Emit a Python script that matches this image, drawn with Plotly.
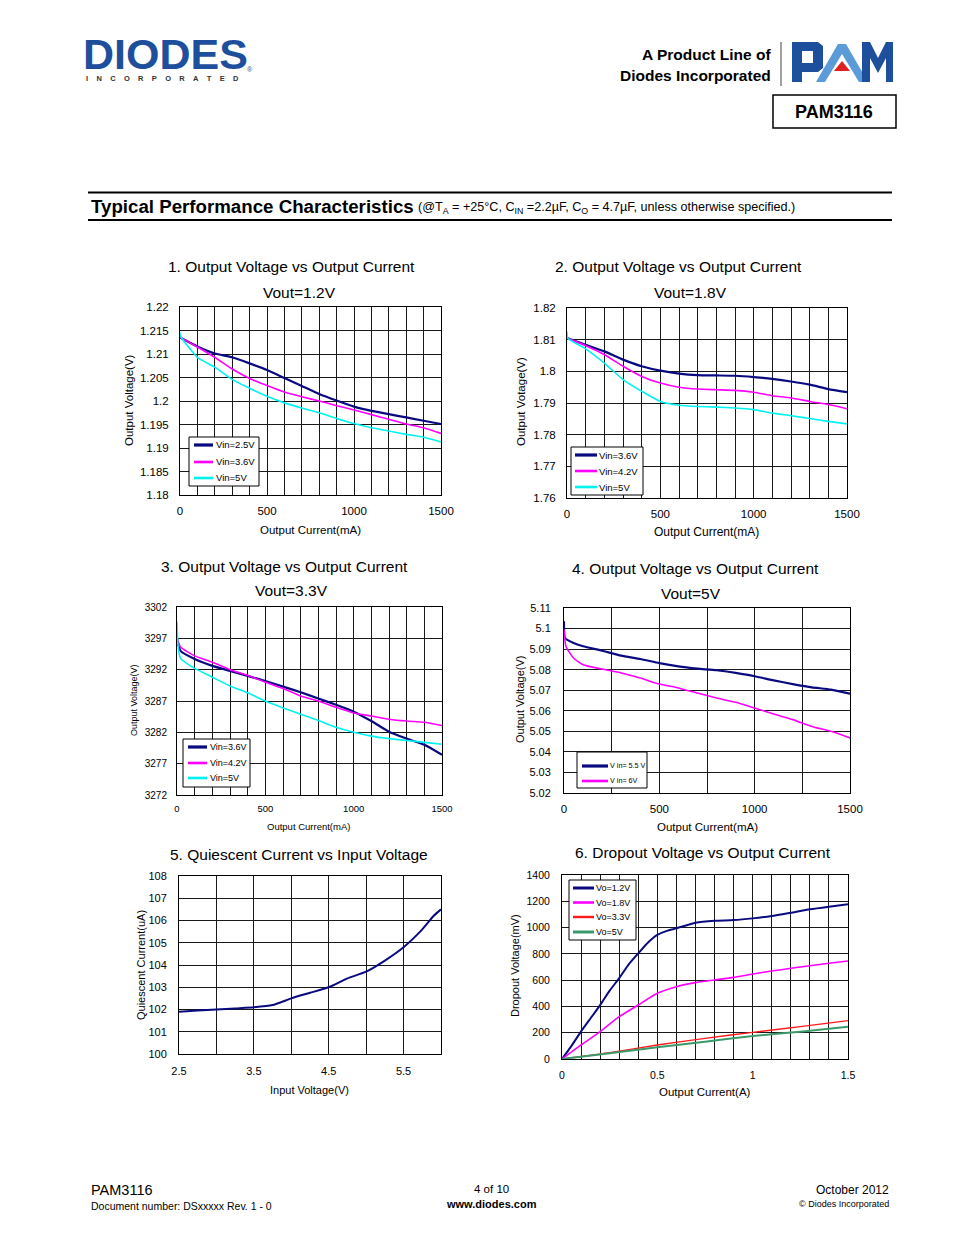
import plotly.graph_objects as go

W, H = 954, 1235
FONT = "Liberation Sans, Arial, Helvetica, sans-serif"
NAVY = "#0a0a80"
MAG = "#ff00ff"
CYAN = "#00f2f2"
RED = "#ff1a1a"
GREEN = "#3a9a6a"
GRID = "#1a1a1a"
LOGO_BLUE = "#1e4f9c"
LOGO_LIGHT = "#5b9bd8"

# ---------------- data ----------------
# Chart 1: Vout = 1.2V
c1_current = [0, 100, 200, 300, 400, 500, 600, 700, 800, 900, 1000, 1100, 1200, 1300, 1400, 1500]
c1_vin25 = [1.2135, 1.2116, 1.2101, 1.2093, 1.2080, 1.2066, 1.2049, 1.2032, 1.2015, 1.2001,
            1.1988, 1.1979, 1.1972, 1.1965, 1.1958, 1.1951]
c1_vin36 = [1.2136, 1.2115, 1.2093, 1.2068, 1.2048, 1.2033, 1.2019, 1.2009, 1.2000, 1.1990,
            1.1981, 1.1971, 1.1961, 1.1951, 1.1943, 1.1931]
c1_current5 = [0, 3, 100, 200, 300, 400, 500, 600, 700, 800, 900, 1000, 1100, 1200, 1300, 1400, 1500]
c1_vin5 = [1.2146, 1.2138, 1.2093, 1.2072, 1.2046, 1.2027, 1.2010, 1.1996, 1.1985, 1.1975,
           1.1963, 1.1952, 1.1943, 1.1936, 1.1929, 1.1923, 1.1913]

# Chart 2: Vout = 1.8V
c2_current = [0, 100, 200, 300, 400, 500, 600, 700, 800, 900, 1000, 1100, 1200, 1300, 1400, 1500]
c2_vin36 = [1.8105, 1.8084, 1.8063, 1.8037, 1.8016, 1.8002, 1.7993, 1.7988, 1.7987, 1.7986,
            1.7982, 1.7976, 1.7968, 1.7958, 1.7944, 1.7934]
c2_vin42 = [1.8105, 1.8081, 1.8053, 1.8016, 1.7984, 1.7963, 1.7950, 1.7944, 1.7942, 1.7940,
            1.7934, 1.7923, 1.7916, 1.7905, 1.7895, 1.7882]
c2_current5 = [0, 3, 100, 200, 300, 400, 500, 600, 700, 800, 900, 1000, 1100, 1200, 1300, 1400, 1500]
c2_vin5 = [1.8126, 1.8105, 1.8071, 1.8026, 1.7974, 1.7937, 1.7905, 1.7893, 1.7889, 1.7887,
           1.7884, 1.7879, 1.7868, 1.7860, 1.7851, 1.7842, 1.7834]

# Chart 3: Vout = 3.3V (values as labelled)
c3_current = [0, 20, 100, 200, 300, 400, 500, 600, 700, 800, 900, 1000, 1100, 1200, 1300, 1400, 1500]
c3_vin36 = [3297.0, 3295.0, 3293.7, 3292.6, 3291.8, 3291.0, 3290.2, 3289.3, 3288.4, 3287.4,
            3286.4, 3285.3, 3283.8, 3282.1, 3281.0, 3280.0, 3278.4]
c3_vin42 = [3297.0, 3295.6, 3294.2, 3293.2, 3292.0, 3291.1, 3290.0, 3289.0, 3287.8, 3287.0,
            3286.0, 3285.1, 3284.6, 3284.1, 3283.8, 3283.6, 3283.1]
c3_current5 = [0, 5, 20, 100, 200, 300, 400, 500, 600, 700, 800, 900, 1000, 1100, 1200, 1300, 1400, 1500]
c3_vin5 = [3299.7, 3296.0, 3293.8, 3292.2, 3290.8, 3289.4, 3288.3, 3287.0, 3285.9, 3284.9,
           3283.9, 3282.8, 3282.0, 3281.4, 3281.0, 3280.7, 3280.4, 3280.1]

# Chart 4: Vout = 5V
c4_current55 = [0, 5, 50, 100, 200, 300, 400, 500, 600, 700, 800, 900, 1000, 1100, 1200, 1300, 1400, 1500]
c4_vin55 = [5.1035, 5.0954, 5.0930, 5.0914, 5.0892, 5.0868, 5.0852, 5.0832, 5.0816, 5.0805,
            5.0797, 5.0784, 5.0768, 5.0748, 5.0730, 5.0714, 5.0703, 5.0683]
c4_current6 = [0, 10, 50, 100, 200, 300, 400, 500, 600, 700, 800, 900, 1000, 1100, 1200, 1300, 1400, 1500]
c4_vin6 = [5.0995, 5.0914, 5.0857, 5.0824, 5.0803, 5.0784, 5.0759, 5.0730, 5.0711, 5.0686,
           5.0662, 5.0641, 5.0613, 5.0584, 5.0557, 5.0524, 5.0500, 5.0468]

# Chart 5: Quiescent current vs input voltage
c5_vin = [2.5, 2.75, 3.0, 3.25, 3.5, 3.75, 4.0, 4.25, 4.5, 4.75, 5.0, 5.25, 5.5, 5.75, 5.9, 6.0]
c5_iq = [101.9, 101.95, 102.0, 102.05, 102.1, 102.2, 102.5, 102.75, 103.0, 103.4, 103.7,
         104.2, 104.8, 105.6, 106.2, 106.5]

# Chart 6: Dropout voltage vs output current
c6_current12 = [0, 0.05, 0.1, 0.15, 0.2, 0.25, 0.3, 0.35, 0.4, 0.45, 0.5, 0.55, 0.6, 0.7, 0.8,
                0.9, 1.0, 1.1, 1.2, 1.3, 1.4, 1.5]
c6_vo12 = [0, 100, 210, 310, 410, 520, 615, 720, 804, 885, 944, 975, 994, 1037, 1052, 1057,
           1070, 1088, 1113, 1139, 1159, 1177]
c6_current18 = [0, 0.1, 0.2, 0.3, 0.4, 0.5, 0.6, 0.7, 0.8, 0.9, 1.0, 1.1, 1.2, 1.3, 1.4, 1.5]
c6_vo18 = [0, 107, 208, 322, 411, 500, 550, 581, 601, 621, 647, 669, 690, 710, 728, 746]
c6_current_hi = [0, 0.25, 0.5, 0.75, 1.0, 1.25, 1.5]
c6_vo33 = [0, 48, 107, 157, 203, 246, 292]
c6_vo5 = [0, 43, 89, 132, 175, 208, 246]

# tick labels
c1_yticks = [1.18, 1.185, 1.19, 1.195, 1.2, 1.205, 1.21, 1.215, 1.22]
c1_ytext = ["1.18", "1.185", "1.19", "1.195", "1.2", "1.205", "1.21", "1.215", "1.22"]
c2_yticks = [1.76, 1.77, 1.78, 1.79, 1.8, 1.81, 1.82]
c2_ytext = ["1.76", "1.77", "1.78", "1.79", "1.8", "1.81", "1.82"]
c3_yticks = [3272, 3277, 3282, 3287, 3292, 3297, 3302]
c3_ytext = ["3272", "3277", "3282", "3287", "3292", "3297", "3302"]
c4_yticks = [5.02, 5.03, 5.04, 5.05, 5.06, 5.07, 5.08, 5.09, 5.1, 5.11]
c4_ytext = ["5.02", "5.03", "5.04", "5.05", "5.06", "5.07", "5.08", "5.09", "5.1", "5.11"]
c5_yticks = [100, 101, 102, 103, 104, 105, 106, 107, 108]
c5_ytext = ["100", "101", "102", "103", "104", "105", "106", "107", "108"]
c6_yticks = [0, 200, 400, 600, 800, 1000, 1200, 1400]
c6_ytext = ["0", "200", "400", "600", "800", "1000", "1200", "1400"]
ma_xticks = [0, 500, 1000, 1500]
ma_xtext = ["0", "500", "1000", "1500"]
c5_xticks = [2.5, 3.5, 4.5, 5.5]
c5_xtext = ["2.5", "3.5", "4.5", "5.5"]
c6_xticks = [0, 0.5, 1.0, 1.5]
c6_xtext = ["0", "0.5", "1", "1.5"]


def px(x):
    return x / W


def py(y):
    return 1 - y / H


fig = go.Figure()
ann = []
shapes = []


def text(x, y, s, size, xanchor="center", angle=0, bold=False, color="black", family=FONT):
    ann.append(dict(x=px(x), y=py(y), xref="paper", yref="paper", text=f"<b>{s}</b>" if bold else s,
                    showarrow=False, xanchor=xanchor, yanchor="middle", textangle=angle,
                    borderpad=0, font=dict(family=family, size=size, color=color)))


def hline(x0, x1, y, w, color="black"):
    shapes.append(dict(type="line", xref="paper", yref="paper", x0=px(x0), x1=px(x1),
                       y0=py(y), y1=py(y), line=dict(color=color, width=w)))


def add_line(n, xs, ys, name, color, width):
    fig.add_trace(go.Scatter(
        x=xs, y=ys, name=name, mode="lines",
        line=dict(color=color, width=width, shape="spline", smoothing=0.5),
        xaxis="x" if n == 1 else f"x{n}", yaxis="y" if n == 1 else f"y{n}",
        showlegend=False, hoverinfo="skip"))


def legend_box(box, line_x, text_x, entries, fs):
    x0, y0, x1, y1 = box
    shapes.append(dict(type="rect", xref="paper", yref="paper", x0=px(x0), x1=px(x1),
                       y0=py(y1), y1=py(y0), fillcolor="white", line=dict(color="black", width=1),
                       layer="above"))
    for (yc, tr) in entries:
        shapes.append(dict(type="line", xref="paper", yref="paper", x0=px(line_x[0]), x1=px(line_x[1]),
                           y0=py(yc), y1=py(yc), layer="above",
                           line=dict(color=tr["color"], width=tr["width"] + 1)))
        text(text_x, yc, tr["name"], fs, xanchor="left")


def series(n, xs, ys, name, color, width):
    add_line(n, xs, ys, name, color, width)
    return dict(name=name, color=color, width=width)


s1 = [series(1, c1_current, c1_vin25, "Vin=2.5V", NAVY, 2.2),
      series(1, c1_current, c1_vin36, "Vin=3.6V", MAG, 1.6),
      series(1, c1_current5, c1_vin5, "Vin=5V", CYAN, 1.6)]
s2 = [series(2, c2_current, c2_vin36, "Vin=3.6V", NAVY, 2.2),
      series(2, c2_current, c2_vin42, "Vin=4.2V", MAG, 1.6),
      series(2, c2_current5, c2_vin5, "Vin=5V", CYAN, 1.6)]
s3 = [series(3, c3_current, c3_vin36, "Vin=3.6V", NAVY, 2.2),
      series(3, c3_current, c3_vin42, "Vin=4.2V", MAG, 1.6),
      series(3, c3_current5, c3_vin5, "Vin=5V", CYAN, 1.6)]
s4 = [series(4, c4_current55, c4_vin55, "V in= 5.5 V", NAVY, 2.2),
      series(4, c4_current6, c4_vin6, "V in= 6V", MAG, 1.6)]
series(5, c5_vin, c5_iq, "Iq", NAVY, 2.0)
s6 = [series(6, c6_current12, c6_vo12, "Vo=1.2V", NAVY, 2.0),
      series(6, c6_current18, c6_vo18, "Vo=1.8V", MAG, 1.6),
      series(6, c6_current_hi, c6_vo33, "Vo=3.3V", RED, 1.4),
      series(6, c6_current_hi, c6_vo5, "Vo=5V", GREEN, 2.0)]

layout = {}


def axes(n, box, xr, xt, xtt, xminor, yr, yt, ytt, xfs, yfs, xstand, ystand):
    left, top, right, bottom = box
    xk = "xaxis" if n == 1 else f"xaxis{n}"
    yk = "yaxis" if n == 1 else f"yaxis{n}"
    xid = "x" if n == 1 else f"x{n}"
    yid = "y" if n == 1 else f"y{n}"
    common = dict(showline=True, mirror=True, linecolor="black", linewidth=1,
                  showgrid=True, gridcolor=GRID, gridwidth=1, zeroline=False,
                  ticks="", fixedrange=True, tickmode="array", automargin=False)
    layout[xk] = dict(common, domain=[px(left), px(right)], anchor=yid, range=xr,
                      tickvals=xt, ticktext=xtt,
                      tickfont=dict(family=FONT, size=xfs, color="black"),
                      ticklabelstandoff=xstand,
                      minor=dict(dtick=xminor, tick0=xr[0], showgrid=True,
                                 gridcolor=GRID, gridwidth=1, ticks=""))
    layout[yk] = dict(common, domain=[py(bottom), py(top)], anchor=xid, range=yr,
                      tickvals=yt, ticktext=ytt,
                      tickfont=dict(family=FONT, size=yfs, color="black"),
                      ticklabelstandoff=ystand)


axes(1, (180, 307, 441, 495), [0, 1500], ma_xticks, ma_xtext, 100,
     [1.18, 1.22], c1_yticks, c1_ytext, 11.5, 11.5, 5, 8)
axes(2, (567, 308, 847, 498), [0, 1500], ma_xticks, ma_xtext, 100,
     [1.76, 1.82], c2_yticks, c2_ytext, 11.5, 11.5, 5, 8)
axes(3, (177, 607, 442, 795), [0, 1500], ma_xticks, ma_xtext, 100,
     [3272, 3302], c3_yticks, c3_ytext, 9.5, 10, 5, 7)
axes(4, (564, 608, 850, 793), [0, 1500], ma_xticks, ma_xtext, 250,
     [5.02, 5.11], c4_yticks, c4_ytext, 11.5, 11, 5, 10)
axes(5, (179, 876, 441, 1054), [2.5, 6.0], c5_xticks, c5_xtext, 0.5,
     [100, 108], c5_yticks, c5_ytext, 11, 11, 7, 9)
axes(6, (562, 875, 848, 1059), [0, 1.5], c6_xticks, c6_xtext, 0.1,
     [0, 1400], c6_yticks, c6_ytext, 10.5, 10.5, 6, 9)

# legends (boxes drawn as in the reference)
legend_box((189, 437, 259, 486), (194, 213), 215, list(zip([445, 462, 478], s1)), 9.5)
legend_box((571, 447, 643, 495), (575, 597), 598, list(zip([455, 471, 487], s2)), 9.5)
legend_box((183, 739, 250, 787), (188, 207), 209, list(zip([747, 763, 778], s3)), 9)
legend_box((577, 752, 647, 788), (582, 608), 609, list(zip([766, 781], s4)), 7.2)
legend_box((569, 880, 636, 940), (573, 594), 595, list(zip([888, 902.5, 917, 932], s6)), 9)

# chart titles
TS = 15.5
text(291, 266, "1. Output Voltage vs Output Current", TS)
text(299, 293, "Vout=1.2V", TS)
text(678, 266, "2. Output Voltage vs Output Current", TS)
text(690, 293, "Vout=1.8V", TS)
text(284, 566, "3. Output Voltage vs Output Current", TS)
text(291, 590, "Vout=3.3V", TS)
text(695, 569, "4. Output Voltage vs Output Current", TS)
text(691, 593, "Vout=5V", TS)
text(299, 854, "5. Quiescent Current vs Input Voltage", TS)
text(703, 852, "6. Dropout Voltage vs Output Current", TS)

# axis titles
text(129, 400, "Output Voltage(V)", 11.5, angle=-90)
text(310, 530, "Output Current(mA)", 11.5)
text(521, 402, "Output Votage(V)", 11.5, angle=-90)
text(706, 532, "Output Current(mA)", 12)
text(134, 700, "Output Voltage(V)", 9, angle=-90)
text(308, 827, "Output Current(mA)", 9.5)
text(520, 700, "Output Voltage(V)", 11, angle=-90)
text(707, 827, "Output Current(mA)", 11.5)
text(141, 965, "Quiescent Current(uA)", 11, angle=-90)
text(309, 1090, "Input Voltage(V)", 11)
text(515, 966, "Dropout Voltage(mV)", 11, angle=-90)
text(705, 1092, "Output Current(A)", 11.5)

# header: DIODES logo
text(82, 53.5, "DIODES", 43, xanchor="left", bold=True, color=LOGO_BLUE)
NB = "\u00a0" * 4
text(85, 79, NB.join("INCORPORATED"), 7.5, xanchor="left", bold=True, color="#333333")
text(250, 69, "®", 7, color=LOGO_BLUE)
hline(84, 166, 54, 2, "white")

text(772, 55, "A Product Line of", 15.5, xanchor="right", bold=True)
text(772, 75, "Diodes Incorporated", 15.5, xanchor="right", bold=True)
text(834, 112, "PAM3116", 18, bold=True)


def path(points, fill):
    d = "M" + " L".join(f"{px(x):.5f},{py(y):.5f}" for x, y in points) + " Z"
    shapes.append(dict(type="path", xref="paper", yref="paper", path=d,
                       fillcolor=fill, line=dict(width=0)))


path([(164, 51), (172, 54), (164, 57)], "white")

# PAM logo
shapes.append(dict(type="line", xref="paper", yref="paper", x0=px(781), x1=px(781),
                   y0=py(42), y1=py(86), line=dict(color="#444444", width=1)))
path([(792, 42), (818, 42), (823, 46), (823, 68), (818, 72), (802, 72), (802, 82), (792, 82)], LOGO_BLUE)
path([(802, 51), (813, 51), (813, 63), (802, 63)], "white")
path([(816, 82), (838, 44), (846, 44), (868, 82), (859, 82), (842, 54), (825, 82)], LOGO_LIGHT)
path([(834, 71), (842, 61), (850, 71)], "#e02020")
path([(862, 82), (862, 42), (870, 42), (878, 58), (886, 42), (893, 42), (893, 82), (886, 82),
      (886, 58), (878, 73), (870, 58), (870, 82)], LOGO_BLUE)
shapes.append(dict(type="rect", xref="paper", yref="paper", x0=px(773), x1=px(896),
                   y0=py(128), y1=py(95), line=dict(color="black", width=1.5)))

# section heading
hline(88, 892, 192.5, 2)
hline(88, 892, 220, 2)
text(90, 207, "Typical Performance Characteristics", 18.7, xanchor="left", bold=True)
ann.append(dict(x=px(417), y=py(208.5), xref="paper", yref="paper", showarrow=False,
                xanchor="left", yanchor="middle", borderpad=0,
                text="(@T<sub>A</sub> = +25°C, C<sub>IN</sub> =2.2µF, C<sub>O</sub> = 4.7µF, unless otherwise specified.)",
                font=dict(family=FONT, size=12.6, color="black")))

# footer
text(90, 1190, "PAM3116", 14.5, xanchor="left")
text(90, 1206, "Document number: DSxxxxx Rev. 1 - 0", 10.5, xanchor="left")
text(491, 1189, "4 of 10", 11.5)
text(491, 1204, "www.diodes.com", 11, bold=True)
text(890, 1190, "October 2012", 12, xanchor="right")
text(890, 1204, "© Diodes Incorporated", 9, xanchor="right")

fig.update_layout(
    width=W, height=H, autosize=False,
    margin=dict(l=0, r=0, t=0, b=0, pad=0, autoexpand=False),
    paper_bgcolor="white", plot_bgcolor="white",
    font=dict(family=FONT, color="black"), showlegend=False,
    annotations=ann, shapes=shapes, hovermode=False,
    **layout)

fig.write_html("out.html", config={"displayModeBar": False, "responsive": False},
               post_script="document.body.style.margin='0';")
